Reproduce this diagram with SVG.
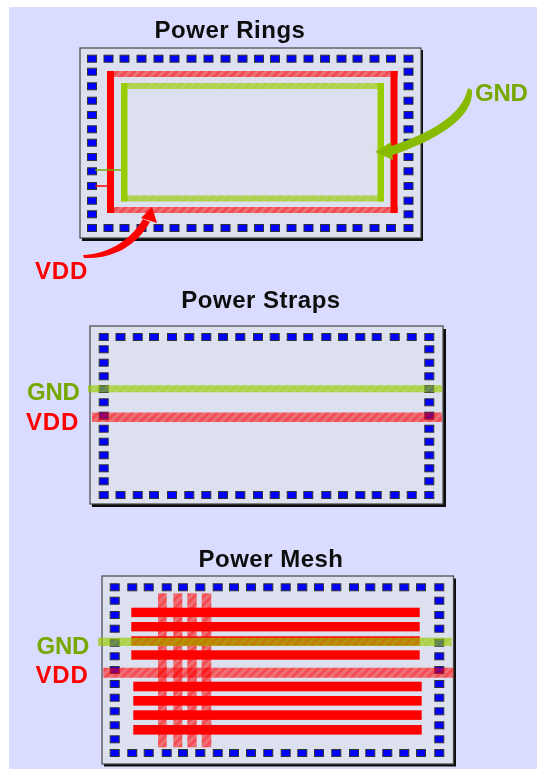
<svg xmlns="http://www.w3.org/2000/svg" width="537" height="769" viewBox="0 0 537 769">
<style>
.title{font:bold 24px "Liberation Sans",Arial,sans-serif;fill:#111;text-anchor:middle;letter-spacing:.5px}
.lbl{font:bold 24px "Liberation Sans",Arial,sans-serif}
.g{fill:#77a800;letter-spacing:-.2px}.r{fill:#ff0000;letter-spacing:.8px}
.box{fill:#dde0ee;stroke:#444;stroke-width:1.2}
.sh{fill:#111}
.rs{fill:#ff0000}.gs{fill:#99cc00}
.rh{fill:url(#hr)}.gh{fill:url(#hg)}
.wire{fill:none;stroke-width:1.5}
</style>
<defs>
<g id="p"><rect x="-4.500" y="-3.500" width="9" height="7" fill="#0000ff" stroke="#333" stroke-width="1"/></g>
<pattern id="hr" width="6" height="6" patternUnits="userSpaceOnUse" patternTransform="rotate(45)"><rect width="6" height="6" fill="#ff0000" fill-opacity=".5"/><rect width="3" height="6" fill="#ff0000" fill-opacity=".3"/></pattern>
<pattern id="hg" width="6" height="6" patternUnits="userSpaceOnUse" patternTransform="rotate(45)"><rect width="6" height="6" fill="#99cc00" fill-opacity=".62"/><rect width="3" height="6" fill="#99cc00" fill-opacity=".25"/></pattern>
<filter id="soft" x="0" y="0" width="100%" height="100%"><feGaussianBlur stdDeviation=".55"/></filter>
</defs>
<rect width="537" height="769" fill="#fff"/>
<rect x="9" y="7" width="528" height="762" fill="#dadcff"/>
<g filter="url(#soft)">
<g id="rings">
<rect class="sh" x="82" y="50" width="341" height="191"/>
<rect class="box" x="80" y="48" width="341" height="190"/>
<g id="rings-pads">
<use href="#p" x="92" y="58.7"/><use href="#p" x="108.5" y="58.7"/><use href="#p" x="124.5" y="58.7"/><use href="#p" x="141.5" y="58.7"/><use href="#p" x="158.5" y="58.7"/><use href="#p" x="174.5" y="58.7"/><use href="#p" x="191.5" y="58.7"/><use href="#p" x="208.5" y="58.7"/><use href="#p" x="225.5" y="58.7"/><use href="#p" x="242.5" y="58.7"/><use href="#p" x="259" y="58.7"/><use href="#p" x="275" y="58.7"/><use href="#p" x="291.5" y="58.7"/><use href="#p" x="308.5" y="58.7"/><use href="#p" x="325" y="58.7"/><use href="#p" x="341.5" y="58.7"/><use href="#p" x="357.5" y="58.7"/><use href="#p" x="374.5" y="58.7"/><use href="#p" x="391" y="58.7"/><use href="#p" x="408.5" y="58.7"/>
<use href="#p" x="92" y="228"/><use href="#p" x="108.5" y="228"/><use href="#p" x="124.5" y="228"/><use href="#p" x="141.5" y="228"/><use href="#p" x="158.5" y="228"/><use href="#p" x="174.5" y="228"/><use href="#p" x="191.5" y="228"/><use href="#p" x="208.5" y="228"/><use href="#p" x="225.5" y="228"/><use href="#p" x="242.5" y="228"/><use href="#p" x="259" y="228"/><use href="#p" x="275" y="228"/><use href="#p" x="291.5" y="228"/><use href="#p" x="308.5" y="228"/><use href="#p" x="325" y="228"/><use href="#p" x="341.5" y="228"/><use href="#p" x="357.5" y="228"/><use href="#p" x="374.5" y="228"/><use href="#p" x="391" y="228"/><use href="#p" x="408.5" y="228"/>
<use href="#p" x="92" y="71.7"/><use href="#p" x="92" y="86.3"/><use href="#p" x="92" y="100.7"/><use href="#p" x="92" y="115"/><use href="#p" x="92" y="129.3"/><use href="#p" x="92" y="142.7"/><use href="#p" x="92" y="157"/><use href="#p" x="92" y="171.3"/><use href="#p" x="92" y="186"/><use href="#p" x="92" y="200.7"/><use href="#p" x="92" y="214.3"/>
<use href="#p" x="408.5" y="71.7"/><use href="#p" x="408.5" y="86.3"/><use href="#p" x="408.5" y="100.7"/><use href="#p" x="408.5" y="115"/><use href="#p" x="408.5" y="129.3"/><use href="#p" x="408.5" y="142.7"/><use href="#p" x="408.5" y="157"/><use href="#p" x="408.5" y="171.3"/><use href="#p" x="408.5" y="186"/><use href="#p" x="408.5" y="200.7"/><use href="#p" x="408.5" y="214.3"/>
</g>
<rect class="rh" x="107" y="71" width="291" height="6"/><rect class="rh" x="107" y="207" width="291" height="6"/>
<rect class="rs" x="107" y="71" width="7" height="142"/><rect class="rs" x="390.500" y="71" width="7" height="142"/>
<rect class="gh" x="121" y="83" width="263" height="6"/><rect class="gh" x="121" y="195.500" width="263" height="6"/>
<rect class="gs" x="121" y="83" width="6.500" height="118.500"/><rect class="gs" x="377.500" y="83" width="6.500" height="118.500"/>
<text class="title" x="230" y="38">Power Rings</text>
</g>
<g id="straps">
<rect class="sh" x="92" y="329" width="354" height="178"/>
<rect class="box" x="90" y="326" width="353" height="178"/>
<g id="straps-pads">
<use href="#p" x="103.700" y="337"/><use href="#p" x="120.500" y="337"/><use href="#p" x="137.700" y="337"/><use href="#p" x="154" y="337"/><use href="#p" x="172" y="337"/><use href="#p" x="189.300" y="337"/><use href="#p" x="206.300" y="337"/><use href="#p" x="223" y="337"/><use href="#p" x="240.300" y="337"/><use href="#p" x="258" y="337"/><use href="#p" x="274.700" y="337"/><use href="#p" x="291.700" y="337"/><use href="#p" x="308.300" y="337"/><use href="#p" x="326.300" y="337"/><use href="#p" x="343" y="337"/><use href="#p" x="360.300" y="337"/><use href="#p" x="376.700" y="337"/><use href="#p" x="394.700" y="337"/><use href="#p" x="411.700" y="337"/><use href="#p" x="429.300" y="337"/>
<use href="#p" x="103.700" y="495"/><use href="#p" x="120.500" y="495"/><use href="#p" x="137.700" y="495"/><use href="#p" x="154" y="495"/><use href="#p" x="172" y="495"/><use href="#p" x="189.300" y="495"/><use href="#p" x="206.300" y="495"/><use href="#p" x="223" y="495"/><use href="#p" x="240.300" y="495"/><use href="#p" x="258" y="495"/><use href="#p" x="274.700" y="495"/><use href="#p" x="291.700" y="495"/><use href="#p" x="308.300" y="495"/><use href="#p" x="326.300" y="495"/><use href="#p" x="343" y="495"/><use href="#p" x="360.300" y="495"/><use href="#p" x="376.700" y="495"/><use href="#p" x="394.700" y="495"/><use href="#p" x="411.700" y="495"/><use href="#p" x="429.300" y="495"/>
<use href="#p" x="103.700" y="349.300"/><use href="#p" x="103.700" y="362.700"/><use href="#p" x="103.700" y="376.300"/><use href="#p" x="103.700" y="389"/><use href="#p" x="103.700" y="402.300"/><use href="#p" x="103.700" y="415.700"/><use href="#p" x="103.700" y="428.700"/><use href="#p" x="103.700" y="441.700"/><use href="#p" x="103.700" y="455.300"/><use href="#p" x="103.700" y="468.300"/><use href="#p" x="103.700" y="481.300"/>
<use href="#p" x="429.300" y="349.300"/><use href="#p" x="429.300" y="362.700"/><use href="#p" x="429.300" y="376.300"/><use href="#p" x="429.300" y="389"/><use href="#p" x="429.300" y="402.300"/><use href="#p" x="429.300" y="415.700"/><use href="#p" x="429.300" y="428.700"/><use href="#p" x="429.300" y="441.700"/><use href="#p" x="429.300" y="455.300"/><use href="#p" x="429.300" y="468.300"/><use href="#p" x="429.300" y="481.300"/>
</g>
<rect class="gh" x="88" y="385.300" width="354" height="7"/>
<rect class="rh" x="92" y="412.500" width="350" height="9.500"/>
<text class="title" x="261" y="308">Power Straps</text>
<text class="lbl g" x="27" y="400">GND</text>
<text class="lbl r" x="26" y="430">VDD</text>
</g>
<g id="mesh">
<rect class="sh" x="104" y="578.500" width="352" height="188"/>
<rect class="box" x="102" y="576" width="351.500" height="188"/>
<g id="mesh-pads">
<use href="#p" x="114.700" y="587.300"/><use href="#p" x="132.300" y="587.300"/><use href="#p" x="148.700" y="587.300"/><use href="#p" x="166.700" y="587.300"/><use href="#p" x="183" y="587.300"/><use href="#p" x="200.300" y="587.300"/><use href="#p" x="217.700" y="587.300"/><use href="#p" x="234" y="587.300"/><use href="#p" x="251" y="587.300"/><use href="#p" x="268.300" y="587.300"/><use href="#p" x="285.700" y="587.300"/><use href="#p" x="302.300" y="587.300"/><use href="#p" x="319" y="587.300"/><use href="#p" x="336.300" y="587.300"/><use href="#p" x="354" y="587.300"/><use href="#p" x="370.300" y="587.300"/><use href="#p" x="387.300" y="587.300"/><use href="#p" x="404.300" y="587.300"/><use href="#p" x="421" y="587.300"/><use href="#p" x="439.300" y="587.300"/>
<use href="#p" x="114.700" y="753"/><use href="#p" x="132.300" y="753"/><use href="#p" x="148.700" y="753"/><use href="#p" x="166.700" y="753"/><use href="#p" x="183" y="753"/><use href="#p" x="200.300" y="753"/><use href="#p" x="217.700" y="753"/><use href="#p" x="234" y="753"/><use href="#p" x="251" y="753"/><use href="#p" x="268.300" y="753"/><use href="#p" x="285.700" y="753"/><use href="#p" x="302.300" y="753"/><use href="#p" x="319" y="753"/><use href="#p" x="336.300" y="753"/><use href="#p" x="354" y="753"/><use href="#p" x="370.300" y="753"/><use href="#p" x="387.300" y="753"/><use href="#p" x="404.300" y="753"/><use href="#p" x="421" y="753"/><use href="#p" x="439.300" y="753"/>
<use href="#p" x="114.700" y="600.700"/><use href="#p" x="114.700" y="615"/><use href="#p" x="114.700" y="628.700"/><use href="#p" x="114.700" y="642.700"/><use href="#p" x="114.700" y="656.300"/><use href="#p" x="114.700" y="670"/><use href="#p" x="114.700" y="684"/><use href="#p" x="114.700" y="697.700"/><use href="#p" x="114.700" y="711.300"/><use href="#p" x="114.700" y="725.300"/><use href="#p" x="114.700" y="739.300"/>
<use href="#p" x="439.300" y="600.700"/><use href="#p" x="439.300" y="615"/><use href="#p" x="439.300" y="628.700"/><use href="#p" x="439.300" y="642.700"/><use href="#p" x="439.300" y="656.300"/><use href="#p" x="439.300" y="670"/><use href="#p" x="439.300" y="684"/><use href="#p" x="439.300" y="697.700"/><use href="#p" x="439.300" y="711.300"/><use href="#p" x="439.300" y="725.300"/><use href="#p" x="439.300" y="739.300"/>
</g>
<rect class="rh" x="158" y="593.300" width="8.700" height="154"/><rect class="rh" x="173.300" y="593.300" width="9" height="154"/><rect class="rh" x="187.300" y="593.300" width="9.400" height="154"/><rect class="rh" x="201.700" y="593.300" width="9.600" height="154"/>
<rect class="rs" x="131.300" y="607.700" width="288.400" height="9.400"/><rect class="rs" x="131.300" y="622" width="288.400" height="9.400"/><rect class="rs" x="131.300" y="636.300" width="288.400" height="9.400"/><rect class="rs" x="131.300" y="650.300" width="288.400" height="9.400"/>
<rect class="rs" x="133.300" y="681.700" width="288.400" height="9.600"/><rect class="rs" x="133.300" y="696" width="288.400" height="9.600"/><rect class="rs" x="133.300" y="710.300" width="288.400" height="9.600"/><rect class="rs" x="133.300" y="725" width="288.400" height="9.600"/>
<rect class="gh" x="98" y="637.700" width="353.700" height="8.300"/>
<rect class="rh" x="103.300" y="667.700" width="350" height="10"/>
<text class="title" x="271" y="567">Power Mesh</text>
<text class="lbl g" x="36.500" y="654">GND</text>
<text class="lbl r" x="35.500" y="683">VDD</text>
</g>
<g id="connectors">
<path class="wire" stroke="#77a800" d="M95 170H121"/>
<path class="wire" stroke="#ff0000" d="M95 186H107"/>
<path fill="#ff0000" d="M83 255C105 254 128 244 143 219L150 222C134 250 108 259 84 258ZM152 207L141 218L157 223Z"/>
<path fill="#88bb00" d="M468 88L472 90C474 118 437 140 390 156L389 147C430 133 462 116 468 88ZM375 152L391 142L393 160Z"/>
</g>
<g id="pin-labels">
<text class="lbl g" x="475" y="100.500">GND</text>
<text class="lbl r" x="35" y="279">VDD</text>
</g>
</g>
</svg>
